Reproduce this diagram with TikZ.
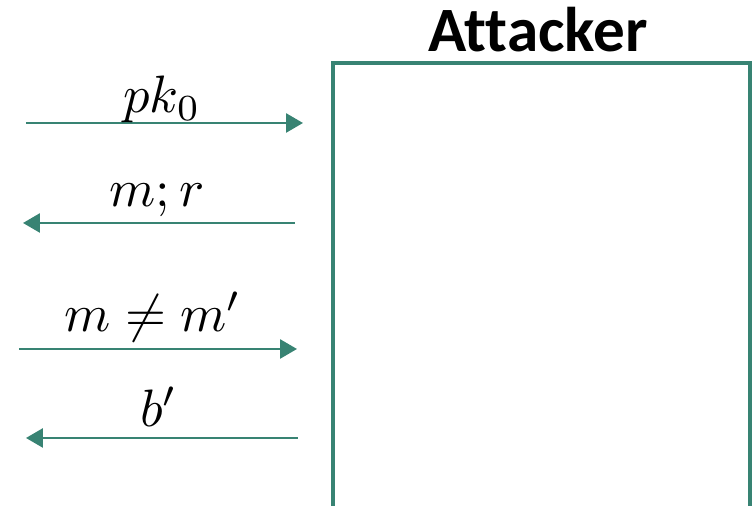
\documentclass[tikz,border=0pt]{standalone}
\usepackage{fontspec}
\usepackage{tikz}
\usetikzlibrary{arrows.meta}
\newfontfamily\titlefont[Ligatures=NoCommon]{Carlito}
\definecolor{myteal}{RGB}{56,131,115}
\tikzset{
  msgarrow/.style={-{Triangle[length=3.2pt, width=3.6pt]}, line width=0.45pt, color=myteal},
  msglabel/.style={anchor=base, inner sep=0pt, font=\normalsize},
  boxline/.style={line width=0.6pt, color=myteal}
}

\begin{document}
\begin{tikzpicture}[x=0.19pt, y=-0.19pt]
  \useasboundingbox (0,0) rectangle (755,506);
  % Attacker box, open at the bottom
  \coordinate (boxbl) at (333,506);
  \coordinate (boxtl) at (333,63);
  \coordinate (boxtr) at (750,63);
  \coordinate (boxbr) at (750,506);
  \draw[boxline] (boxbl) -- (boxtl) -- (boxtr) -- (boxbr);
  \node[anchor=base, inner sep=0pt, font=\titlefont\bfseries\fontsize{12}{14}\selectfont] (attacker) at (538,52) {Attacker};
  % Messages
  \coordinate (pkL) at (26,123);
  \coordinate (pkR) at (303,123);
  \draw[msgarrow] (pkL) -- (pkR);
  \node[msglabel] (pklbl) at (162,113) {$pk_0$};
  \coordinate (mrL) at (23,223);
  \coordinate (mrR) at (295,223);
  \draw[msgarrow] (mrR) -- (mrL);
  \node[msglabel] (mrlbl) at (157,207) {$m;r$};
  \coordinate (neqL) at (19,349);
  \coordinate (neqR) at (297,349);
  \draw[msgarrow] (neqL) -- (neqR);
  \node[msglabel] (neqlbl) at (153,332) {$m\neq m'$};
  \coordinate (bL) at (26,438);
  \coordinate (bR) at (298,438);
  \draw[msgarrow] (bR) -- (bL);
  \node[msglabel] (blbl) at (159,427) {$b'$};
\end{tikzpicture}
\end{document}
